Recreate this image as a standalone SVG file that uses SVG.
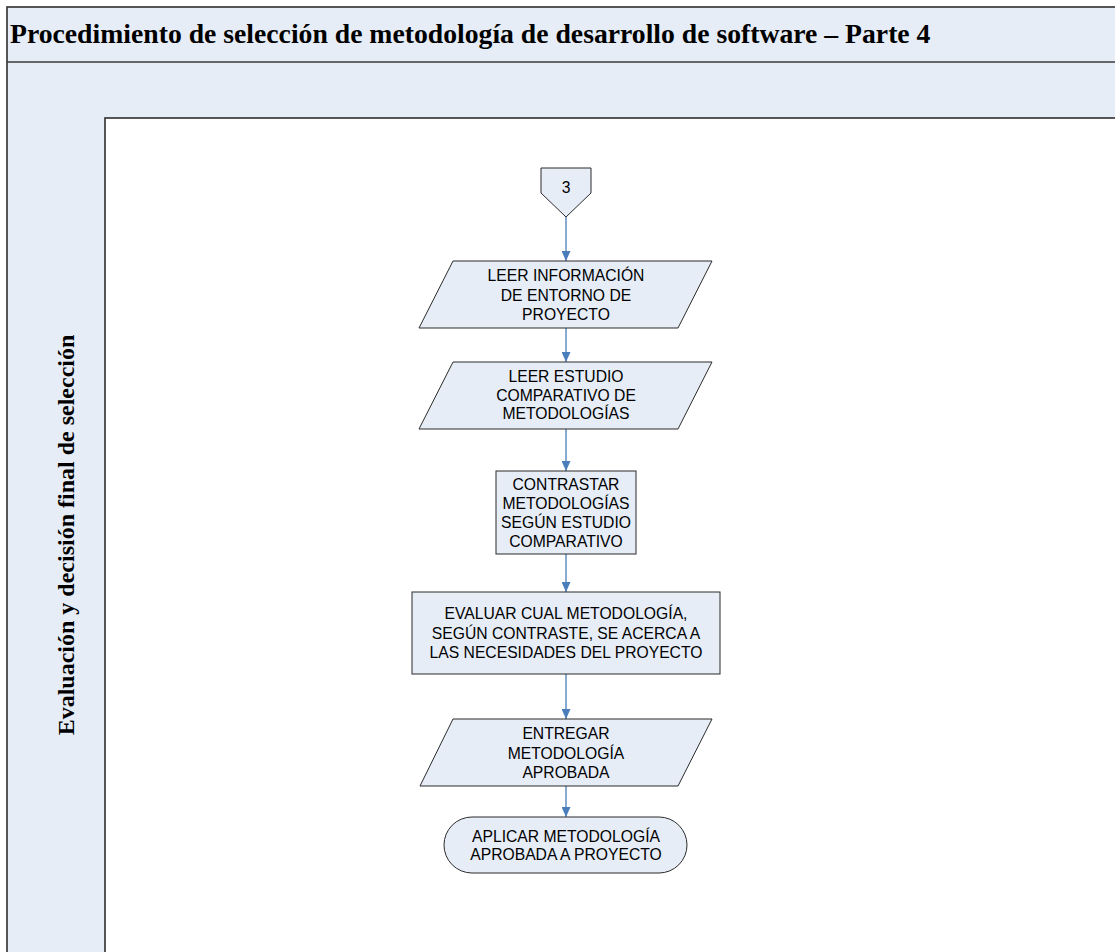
<svg xmlns="http://www.w3.org/2000/svg" width="1115" height="952" viewBox="0 0 1115 952">
<defs>
<style>
.frame{fill:#e6edf7;stroke:#3a3a3a;stroke-width:1.7}
.shape{fill:#e6edf7;stroke:#2b2b2b;stroke-width:1}
.t{font-family:"Liberation Sans",Arial,sans-serif;font-size:15.7px;fill:#000;text-anchor:middle;dominant-baseline:central}
.title{font-family:"Liberation Serif","Times New Roman",serif;font-weight:bold;font-size:27.7px;fill:#000}
.lane{font-family:"Liberation Serif","Times New Roman",serif;font-weight:bold;font-size:24px;fill:#000;text-anchor:middle;dominant-baseline:central}
.c{stroke:#4a7ebb;stroke-width:1.3;fill:none;marker-end:url(#ah)}
</style>
<marker id="ah" viewBox="0 0 10 10" refX="10" refY="5" markerWidth="10" markerHeight="9" markerUnits="userSpaceOnUse" orient="auto" preserveAspectRatio="none">
<path d="M0,0 L10,5 L0,10 z" fill="#4a7ebb"/>
</marker>
</defs>
<rect width="1115" height="952" fill="#fff"/>
<g id="pool">
<rect class="frame" x="7" y="7" width="1120" height="960"/>
<line x1="7" y1="62" x2="1115" y2="62" stroke="#3a3a3a" stroke-width="1.7"/>
<rect x="105" y="118" width="1020" height="850" fill="#fff" stroke="#3a3a3a" stroke-width="1.7"/>
<text class="title" x="10" y="43">Procedimiento de selección de metodología de desarrollo de software – Parte 4</text>
<text class="lane" transform="translate(66,535) rotate(-90)">Evaluación y decisión final de selección</text>
</g>
<g id="connectors">
<line class="c" x1="566" y1="217" x2="566" y2="261"/>
<line class="c" x1="566" y1="328" x2="566" y2="362"/>
<line class="c" x1="566" y1="429" x2="566" y2="471"/>
<line class="c" x1="566" y1="554" x2="566" y2="592"/>
<line class="c" x1="566" y1="674" x2="566" y2="719"/>
<line class="c" x1="566" y1="786" x2="566" y2="817"/>
</g>
<g id="n0">
<path class="shape" d="M541,168 H591 V193 L566,217 L541,193 Z"/>
<text class="t" x="566" y="187">3</text>
</g>
<g id="n1">
<path class="shape" d="M453,261 H712 L678,328 H419 Z"/>
<text class="t" x="566" y="275">LEER INFORMACIÓN</text>
<text class="t" x="566" y="295">DE ENTORNO DE</text>
<text class="t" x="566" y="314">PROYECTO</text>
</g>
<g id="n2">
<path class="shape" d="M453,362 H712 L678,429 H419 Z"/>
<text class="t" x="566" y="376">LEER ESTUDIO</text>
<text class="t" x="566" y="395">COMPARATIVO DE</text>
<text class="t" x="566" y="413">METODOLOGÍAS</text>
</g>
<g id="n3">
<rect class="shape" x="496" y="471" width="140" height="83"/>
<text class="t" x="566" y="484">CONTRASTAR</text>
<text class="t" x="566" y="503">METODOLOGÍAS</text>
<text class="t" x="566" y="522">SEGÚN ESTUDIO</text>
<text class="t" x="566" y="541">COMPARATIVO</text>
</g>
<g id="n4">
<rect class="shape" x="412" y="592" width="308" height="82"/>
<text class="t" x="566" y="613">EVALUAR CUAL METODOLOGÍA,</text>
<text class="t" x="566" y="633">SEGÚN CONTRASTE, SE ACERCA A</text>
<text class="t" x="566" y="652">LAS NECESIDADES DEL PROYECTO</text>
</g>
<g id="n5">
<path class="shape" d="M453,719 H712 L678,786 H420 Z"/>
<text class="t" x="566" y="733">ENTREGAR</text>
<text class="t" x="566" y="753">METODOLOGÍA</text>
<text class="t" x="566" y="772">APROBADA</text>
</g>
<g id="n6">
<rect class="shape" x="444" y="817" width="243" height="56" rx="28" ry="28"/>
<text class="t" x="566" y="836">APLICAR METODOLOGÍA</text>
<text class="t" x="566" y="854">APROBADA A PROYECTO</text>
</g>
</svg>
